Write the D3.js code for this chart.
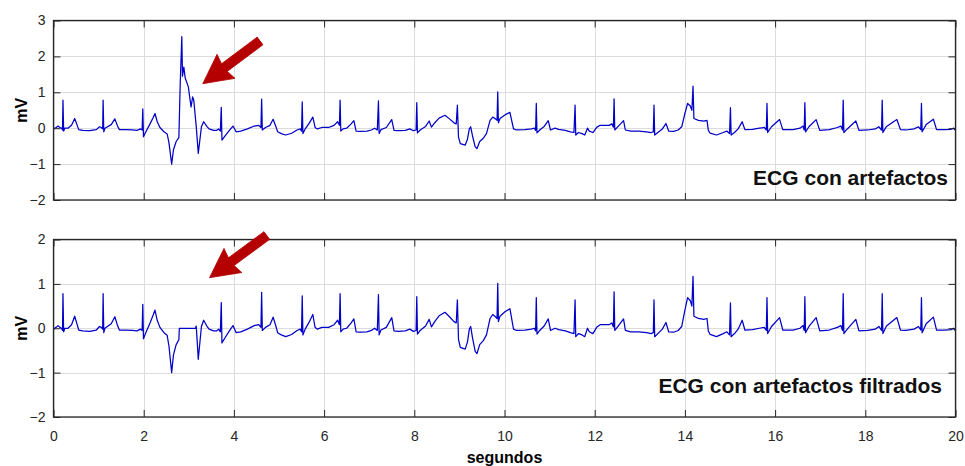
<!DOCTYPE html>
<html>
<head>
<meta charset="utf-8">
<script src="https://cdn.jsdelivr.net/npm/d3@7"></script>
<style>
  html, body { margin: 0; padding: 0; background: #fff; }
  svg { display: block; }
  text { font-family: "Liberation Sans", Arial, Helvetica, sans-serif; }
</style>
</head>
<body>
<svg id="chart" width="965" height="466"></svg>
<script>
// ECG recording, [seconds, mV] breakpoints of the polyline
const ecgRaw = [
  [0.00,-0.02],[0.06,0.02],[0.10,0.06],[0.14,0.02],[0.18,0.00],[0.20,-0.05],[0.21,0.78],[0.225,-0.08],
  [0.25,0.00],[0.32,0.00],[0.40,0.08],[0.47,0.27],[0.52,0.10],[0.56,-0.04],[0.65,-0.06],[0.80,-0.07],
  [0.95,-0.04],[1.02,0.04],[1.06,0.02],[1.09,-0.02],[1.10,0.78],[1.115,-0.10],[1.14,0.00],[1.28,0.10],
  [1.36,0.26],[1.42,0.06],[1.46,-0.04],[1.60,-0.04],[1.75,-0.05],[1.85,-0.06],[1.93,-0.02],[1.965,-0.05],
  [1.98,0.54],[1.995,-0.24],[2.04,-0.12],[2.14,0.12],[2.21,0.30],[2.25,0.41],[2.30,0.18],[2.36,0.02],
  [2.45,-0.10],[2.52,-0.16],[2.56,-0.40],[2.62,-1.00],[2.66,-0.60],[2.72,-0.37],[2.78,-0.26],[2.81,1.25],
  [2.845,2.55],[2.86,1.45],[2.89,1.70],[2.92,1.40],[2.99,1.15],[3.05,0.59],[3.085,0.87],[3.11,0.78],
  [3.165,0.05],[3.21,-0.70],[3.28,0.04],[3.33,0.18],[3.40,0.05],[3.45,-0.02],[3.55,-0.06],[3.62,-0.06],
  [3.66,-0.02],[3.70,-0.08],[3.72,0.58],[3.735,-0.33],[3.80,-0.22],[3.90,-0.06],[3.98,0.06],[4.05,-0.10],
  [4.15,-0.08],[4.30,-0.02],[4.45,0.06],[4.55,0.08],[4.60,0.02],[4.615,0.81],[4.63,-0.05],[4.70,0.02],
  [4.80,0.08],[4.87,0.25],[4.93,0.05],[4.97,-0.10],[5.05,-0.15],[5.15,-0.19],[5.28,-0.14],[5.40,-0.05],
  [5.47,-0.02],[5.50,-0.08],[5.515,0.73],[5.53,-0.15],[5.58,-0.02],[5.66,0.12],[5.75,0.31],[5.80,0.02],
  [5.85,-0.02],[5.95,0.02],[6.10,0.02],[6.22,0.08],[6.30,0.18],[6.34,0.08],[6.355,0.78],[6.37,-0.08],
  [6.42,-0.02],[6.50,0.00],[6.60,0.12],[6.66,0.21],[6.71,-0.08],[6.80,-0.09],[6.95,-0.08],[7.05,-0.05],
  [7.12,0.00],[7.18,-0.05],[7.205,0.76],[7.22,-0.15],[7.26,-0.04],[7.38,0.02],[7.50,0.24],[7.55,-0.06],
  [7.65,-0.07],[7.80,-0.06],[7.90,-0.02],[7.98,-0.07],[8.04,-0.05],[8.055,0.71],[8.07,-0.13],[8.13,-0.05],
  [8.25,0.05],[8.33,0.20],[8.38,0.03],[8.46,0.16],[8.55,0.28],[8.68,0.36],[8.78,0.26],[8.88,0.15],
  [8.93,0.12],[8.955,0.64],[8.98,-0.25],[9.02,-0.43],[9.13,-0.47],[9.18,-0.30],[9.22,-0.02],[9.25,0.04],
  [9.29,-0.21],[9.35,-0.52],[9.39,-0.57],[9.45,-0.37],[9.53,-0.28],[9.60,-0.15],[9.68,0.22],[9.74,0.31],
  [9.80,0.26],[9.835,0.22],[9.85,1.01],[9.865,0.15],[9.90,0.27],[10.01,0.37],[10.12,0.44],[10.20,-0.02],
  [10.27,-0.05],[10.45,-0.04],[10.60,-0.02],[10.66,0.00],[10.69,-0.06],[10.705,0.69],[10.72,-0.13],[10.78,-0.05],
  [10.88,0.05],[10.97,0.21],[11.02,-0.05],[11.12,0.00],[11.20,-0.03],[11.35,-0.06],[11.46,-0.10],[11.54,-0.12],
  [11.565,0.64],[11.58,-0.19],[11.64,-0.12],[11.72,-0.15],[11.78,-0.19],[11.84,0.00],[11.88,-0.08],[11.96,-0.12],
  [12.05,0.03],[12.12,0.08],[12.32,0.08],[12.38,0.12],[12.415,0.03],[12.43,0.82],[12.445,-0.05],[12.52,0.05],
  [12.64,0.21],[12.68,-0.05],[12.80,-0.08],[12.98,-0.08],[13.15,-0.10],[13.25,-0.12],[13.30,-0.10],[13.315,0.64],
  [13.33,-0.19],[13.40,-0.12],[13.50,-0.02],[13.58,0.13],[13.64,-0.08],[13.75,-0.09],[13.85,-0.05],[13.93,0.04],
  [14.00,0.41],[14.06,0.69],[14.12,0.62],[14.155,0.50],[14.18,1.17],[14.20,0.27],[14.30,0.22],[14.42,0.20],
  [14.49,0.22],[14.52,-0.06],[14.56,-0.14],[14.70,-0.19],[14.85,-0.12],[14.93,-0.08],[14.99,-0.15],[15.01,0.57],
  [15.025,-0.19],[15.10,-0.12],[15.18,-0.02],[15.27,0.18],[15.33,-0.04],[15.50,-0.03],[15.65,0.00],[15.76,0.02],
  [15.805,-0.05],[15.82,0.69],[15.835,-0.12],[15.92,0.04],[16.10,0.24],[16.17,-0.04],[16.40,-0.04],[16.55,0.00],
  [16.62,0.06],[16.645,-0.05],[16.66,0.71],[16.675,-0.10],[16.75,0.04],[16.91,0.24],[16.99,-0.06],[17.20,-0.04],
  [17.38,0.02],[17.46,0.06],[17.495,-0.05],[17.51,0.78],[17.525,-0.12],[17.60,-0.02],[17.79,0.20],[17.86,-0.06],
  [18.05,-0.05],[18.22,-0.02],[18.30,0.04],[18.36,-0.05],[18.375,0.78],[18.39,-0.12],[18.47,0.05],[18.70,0.24],
  [18.78,-0.04],[18.90,-0.05],[19.08,-0.02],[19.18,0.04],[19.23,-0.04],[19.245,0.69],[19.26,-0.10],[19.35,0.10],
  [19.51,0.25],[19.58,-0.04],[19.75,-0.04],[19.90,-0.03],[19.96,0.00],[19.98,-0.04],[20.00,-0.03]
];

// Interval (s) where the artifact is suppressed (set to 0 mV) by the filter
const artifactWindow = [2.79, 3.15];

// Axis ticks
const xTickValues = [0, 2, 4, 6, 8, 10, 12, 14, 16, 18, 20];
const yTicksRaw = [-2, -1, 0, 1, 2, 3];
const yTicksFiltered = [-2, -1, 0, 1, 2];

// Texts
const yAxisLabel = "mV";
const xAxisLabel = "segundos";
const titleRaw = "ECG con artefactos";
const titleFiltered = "ECG con artefactos filtrados";

// Annotation arrows pointing at the artifact, [seconds, mV]
const arrowRaw = { tail: [4.58, 2.43], tip: [3.31, 1.24] };
const arrowFiltered = { tail: [4.73, 2.09], tip: [3.46, 1.14] };

// Filtered trace: samples inside the artifact window replaced by zero
const ecgFiltered = [
  ...ecgRaw.filter(d => d[0] < artifactWindow[0]),
  [artifactWindow[0], 0],
  [artifactWindow[1], 0],
  ...ecgRaw.filter(d => d[0] > artifactWindow[1])
];

const svg = d3.select("#chart");
const left = 53.5, right = 955.5;
const x = d3.scaleLinear().domain([0, 20]).range([left, right]);

const AXIS = "#262626", GRID = "#dcdcdc", TRACE = "#0000c8", ARROW = "#b40000";

function panel(cfg) {
  const { top, bottom, yDomain, yTicks, data, showXLabels, title, titleY, titleX, arrow, id } = cfg;
  const y = d3.scaleLinear().domain(yDomain).range([bottom, top]);
  const g = svg.append("g");
  const w = right - left, h = bottom - top;

  g.append("rect").attr("x", left).attr("y", top).attr("width", w).attr("height", h).attr("fill", "#fff");

  // grid
  g.append("g").selectAll("line.gx").data(xTickValues).join("line")
    .attr("x1", d => Math.round(x(d)) + 0.5).attr("x2", d => Math.round(x(d)) + 0.5)
    .attr("y1", top).attr("y2", bottom).attr("stroke", GRID).attr("stroke-width", 1);
  g.append("g").selectAll("line.gy").data(yTicks).join("line")
    .attr("x1", left).attr("x2", right)
    .attr("y1", d => Math.round(y(d)) + 0.5).attr("y2", d => Math.round(y(d)) + 0.5)
    .attr("stroke", GRID).attr("stroke-width", 1);

  // trace
  g.append("clipPath").attr("id", id).append("rect")
    .attr("x", left).attr("y", top).attr("width", w).attr("height", h);
  g.append("path").datum(data)
    .attr("clip-path", `url(#${id})`)
    .attr("fill", "none").attr("stroke", TRACE).attr("stroke-width", 1.25)
    .attr("stroke-linejoin", "round")
    .attr("d", d3.line().x(d => x(d[0])).y(d => y(d[1])));

  // axes: inward ticks on all four sides
  const styleAxis = sel => {
    sel.select(".domain").remove();
    sel.selectAll(".tick line").attr("stroke", AXIS).attr("stroke-width", 1);
    sel.selectAll(".tick text").attr("fill", AXIS).attr("font-size", 14)
      .attr("font-family", '"Liberation Sans", Arial, sans-serif');
  };
  const xb = d3.axisBottom(x).tickValues(xTickValues).tickSize(-7).tickPadding(14.5)
    .tickFormat(showXLabels ? d3.format("d") : () => "");
  g.append("g").attr("transform", `translate(0,${bottom})`).call(xb).call(styleAxis);
  g.append("g").attr("transform", `translate(0,${top})`)
    .call(d3.axisTop(x).tickValues(xTickValues).tickSize(-7).tickFormat(() => "")).call(styleAxis);
  g.append("g").attr("transform", `translate(${left},0)`)
    .call(d3.axisLeft(y).tickValues(yTicks).tickSize(-7).tickPadding(8).tickFormat(d3.format("d")))
    .call(styleAxis);
  g.append("g").attr("transform", `translate(${right},0)`)
    .call(d3.axisRight(y).tickValues(yTicks).tickSize(-7).tickFormat(() => "")).call(styleAxis);

  // box
  g.append("rect").attr("x", left).attr("y", top).attr("width", w).attr("height", h)
    .attr("fill", "none").attr("stroke", AXIS).attr("stroke-width", 1.3);

  // y label
  g.append("text")
    .attr("transform", `translate(27,${(top + bottom) / 2}) rotate(-90)`)
    .attr("text-anchor", "middle").attr("font-weight", "bold").attr("font-size", 16)
    .attr("fill", "#000").text(yAxisLabel);

  // panel caption
  g.append("text").attr("x", titleX).attr("y", titleY)
    .attr("text-anchor", "end").attr("font-weight", "bold").attr("font-size", 21)
    .attr("fill", "#111").text(title);

  // arrow annotation
  const x0 = x(arrow.tail[0]), y0 = y(arrow.tail[1]);
  const x1 = x(arrow.tip[0]), y1 = y(arrow.tip[1]);
  const L = Math.hypot(x1 - x0, y1 - y0);
  const ux = (x1 - x0) / L, uy = (y1 - y0) / L, nx = -uy, ny = ux;
  const H = 29, W = 15, S = 4.8;
  const at = (a, b) => [x1 - ux * a + nx * b, y1 - uy * a + ny * b];
  const pts = [
    [x0 + nx * S, y0 + ny * S], at(H - 2, S), at(H, W), [x1, y1],
    at(H, -W), at(H - 2, -S), [x0 - nx * S, y0 - ny * S]
  ];
  g.append("polygon").attr("points", pts.map(p => p.join(",")).join(" "))
    .attr("fill", ARROW).attr("stroke", ARROW).attr("stroke-width", 0.8)
    .attr("stroke-linejoin", "round");

  return y;
}

panel({
  id: "clipRaw", top: 20.5, bottom: 200, yDomain: [-2, 3], yTicks: yTicksRaw,
  data: ecgRaw, showXLabels: false, title: titleRaw, titleX: 948, titleY: 185, arrow: arrowRaw
});
panel({
  id: "clipFilt", top: 239.5, bottom: 417, yDomain: [-2, 2], yTicks: yTicksFiltered,
  data: ecgFiltered, showXLabels: true, title: titleFiltered, titleX: 942, titleY: 393, arrow: arrowFiltered
});

// x axis label
svg.append("text").attr("x", (left + right) / 2).attr("y", 463)
  .attr("text-anchor", "middle").attr("font-weight", "bold").attr("font-size", 16)
  .attr("fill", "#000").text(xAxisLabel);
</script>
</body>
</html>
